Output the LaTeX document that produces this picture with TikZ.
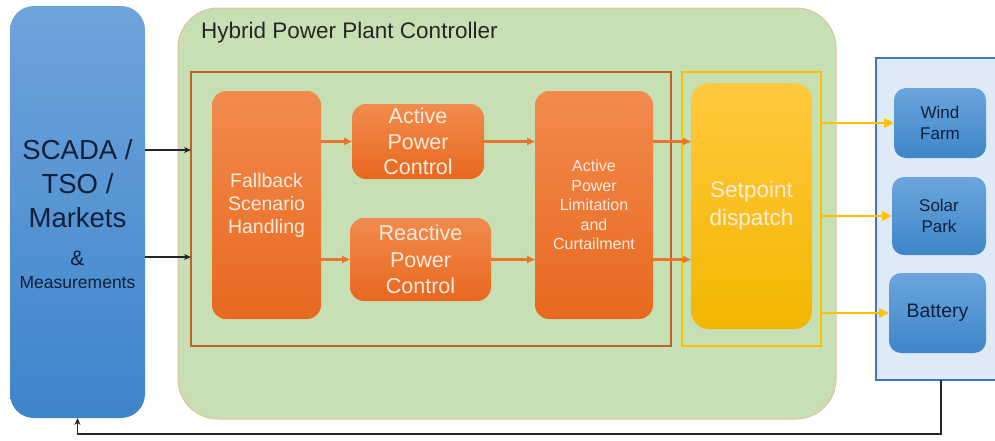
\documentclass[tikz,border=0pt]{standalone}
\usepackage{fontspec}
\setmainfont{Liberation Sans}
\usetikzlibrary{arrows.meta,calc}
\definecolor{scadaT}{HTML}{6FA3DB}
\definecolor{scadaB}{HTML}{3D85CA}
\definecolor{navy}{HTML}{10203A}
\definecolor{grn}{HTML}{C6E0B4}
\definecolor{tan}{HTML}{E6C09A}
\definecolor{orgT}{HTML}{F28B4E}
\definecolor{orgB}{HTML}{E8681F}
\definecolor{orgF}{HTML}{C0622A}
\definecolor{orgA}{HTML}{E8752E}
\definecolor{ylwT}{HTML}{FFC93E}
\definecolor{ylwB}{HTML}{F2B700}
\definecolor{ylwF}{HTML}{FFC000}
\definecolor{rfill}{HTML}{DEEAF6}
\definecolor{rdraw}{HTML}{4472C4}
\definecolor{bT}{HTML}{6BA5DD}
\definecolor{bB}{HTML}{3E86C8}
\definecolor{txtW}{HTML}{FDEBDD}
\begin{document}
\begin{tikzpicture}[x=1pt,y=-1pt,
  box/.style={anchor=north west, outer sep=0pt, inner sep=0pt, align=center},
  obox/.style={box, rounded corners=14pt, top color=orgT, bottom color=orgB, text=txtW},
  bbox/.style={box, rounded corners=12pt, top color=bT, bottom color=bB, text=navy},
  lbl/.style={align=center, inner sep=0pt},
  blk/.style={draw=black!85, line width=1.2pt, -{Stealth[length=7pt,width=6pt]}},
  oarr/.style={draw=orgA, line width=2.4pt, -{Triangle[length=8pt,width=7pt]}},
  yarr/.style={draw=ylwF, line width=2.8pt, -{Triangle[length=10pt,width=9pt]}}
]
\useasboundingbox (0,0) rectangle (995,440);
\clip (0,0) rectangle (995,440);
\fill[white] (0,0) rectangle (995,440);

% SCADA
\node[box, rounded corners=24pt, top color=scadaT, bottom color=scadaB,
  minimum width=135pt, minimum height=412pt] (scada) at (10,6) {};
\node[lbl, text=navy, font=\fontsize{27.5}{34}\selectfont] (scadat) at (77.5,184) {SCADA /\\TSO /\\Markets};
\node[lbl, text=navy, font=\fontsize{21}{24}\selectfont] (amp) at (77.5,258) {\&};
\node[lbl, text=navy, font=\fontsize{17.5}{20}\selectfont] (meas) at (77.5,283) {Measurements};

% Controller
\node[box, draw=tan, line width=1pt, fill=grn, rounded corners=40pt,
  minimum width=658pt, minimum height=411pt] (hppc) at (178,8) {};
\node[anchor=west, inner sep=0pt, text=black!85, font=\fontsize{22.5}{26}\selectfont] (title) at (201,33) {Hybrid Power Plant Controller};

\node[box, draw=orgF, line width=2pt, minimum width=480pt, minimum height=274pt] (oframe) at (191,72) {};
\node[box, draw=ylwF, line width=2pt, minimum width=139pt, minimum height=274pt] (yframe) at (682,72) {};

\node[obox, minimum width=109pt, minimum height=228pt, font=\fontsize{19.5}{23}\selectfont] (fb) at (212,91) {Fallback\\Scenario\\Handling};
\node[obox, minimum width=132pt, minimum height=75pt, font=\fontsize{21.5}{25.5}\selectfont] (apc) at (352,104) {Active\\Power\\Control};
\node[obox, minimum width=141pt, minimum height=83pt, font=\fontsize{21.5}{26.5}\selectfont] (rpc) at (350,218) {Reactive\\Power\\Control};
\node[obox, minimum width=118pt, minimum height=228pt, font=\fontsize{16}{19.5}\selectfont] (lim) at (535,91) {Active\\Power\\Limitation\\and\\Curtailment};
\node[box, rounded corners=18pt, top color=ylwT, bottom color=ylwB, text=txtW,
  minimum width=121pt, minimum height=246pt, font=\fontsize{22.5}{28}\selectfont] (sp) at (691,83) {Setpoint\\dispatch};

% Right side
\node[box, draw=rdraw, line width=1.5pt, fill=rfill, minimum width=130pt, minimum height=322pt] (plant) at (876,58) {};
\node[bbox, minimum width=92pt, minimum height=70pt, font=\fontsize{17}{21}\selectfont] (wind) at (894,88) {Wind\\Farm};
\node[bbox, minimum width=94pt, minimum height=78pt, font=\fontsize{17}{21}\selectfont] (solar) at (892,177) {Solar\\Park};
\node[bbox, minimum width=97pt, minimum height=80pt, font=\fontsize{19.5}{22}\selectfont] (batt) at (889,273) {Battery};

% Connectors
\draw[blk] (scada.east |- 0,150) -- (oframe.west |- 0,150);
\draw[blk] (scada.east |- 0,257) -- (oframe.west |- 0,257);

\draw[oarr] (fb.east |- apc.west) -- (apc.west);
\draw[oarr] (fb.east |- rpc.west) -- (rpc.west);
\draw[oarr] (apc.east) -- (lim.west |- apc.east);
\draw[oarr] (rpc.east) -- (lim.west |- rpc.east);
\draw[oarr] (lim.east |- apc.east) -- (sp.west |- apc.east);
\draw[oarr] (lim.east |- rpc.east) -- (sp.west |- rpc.east);

\draw[yarr] (yframe.east |- wind.west) -- (wind.west);
\draw[yarr] (yframe.east |- solar.west) -- (solar.west);
\draw[yarr] (yframe.east |- batt.west) -- (batt.west);

\coordinate (fbk) at (941,434);
\draw[blk, line width=1.3pt] (plant.south -| fbk) -- (fbk) -| (scada.south);
\end{tikzpicture}
\end{document}
